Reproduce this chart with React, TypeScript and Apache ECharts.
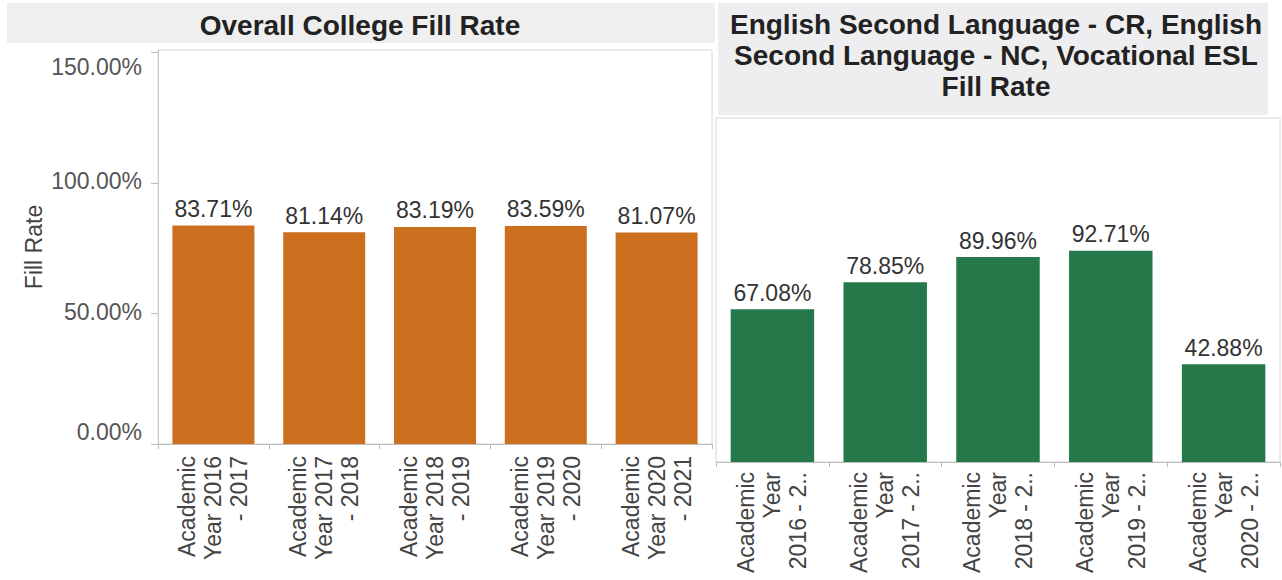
import React, { useEffect, useRef } from "react";
import * as echarts from "echarts";

const categories = [
  "Academic Year 2016 - 2017",
  "Academic Year 2017 - 2018",
  "Academic Year 2018 - 2019",
  "Academic Year 2019 - 2020",
  "Academic Year 2020 - 2021",
];
const overallFillRate = [83.71, 81.14, 83.19, 83.59, 81.07];
const eslFillRate = [67.08, 78.85, 89.96, 92.71, 42.88];
const yTicks = [0, 50, 100, 150];
const leftTitle = "Overall College Fill Rate";
const rightTitle = ["English Second Language - CR, English", "Second Language - NC, Vocational ESL", "Fill Rate"];
const yAxisName = "Fill Rate";

const FONT = '"Liberation Sans", Arial, Helvetica, sans-serif';

const wrapLeft = (v: string) => v.replace(/^Academic /, "Academic\n").replace(/ - /, "\n- ");
const wrapRight = (v: string) => {
  const rest = v.replace(/^Academic Year /, "");
  return "Academic\nYear\n" + rest.slice(0, 8) + "..";
};

export default function App() {
  const ref = useRef<HTMLDivElement>(null);
  useEffect(() => {
    if (!ref.current) return;
    const chart = echarts.init(ref.current, null, { renderer: "svg" });
    const labelStyle = { fontFamily: FONT, fontSize: 23, color: "#555" };
    chart.setOption({
      animation: false,
      backgroundColor: "#ffffff",
      textStyle: { fontFamily: FONT },
      graphic: [
        { type: "rect", shape: { x: 7, y: 3, width: 708, height: 40 }, style: { fill: "#efefef" }, silent: true },
        { type: "rect", shape: { x: 718, y: 3, width: 550, height: 112 }, style: { fill: "#eeeef0" }, silent: true },
        {
          type: "text",
          x: 360,
          y: 25,
          style: {
            text: leftTitle,
            fontFamily: FONT,
            fontSize: 28,
            fontWeight: "bold",
            fill: "#222",
            align: "center",
            verticalAlign: "middle",
          },
        },
        {
          type: "text",
          x: 996,
          y: 55,
          style: {
            text: rightTitle.join("\n"),
            fontFamily: FONT,
            fontSize: 28,
            lineHeight: 31,
            fontWeight: "bold",
            fill: "#222",
            align: "center",
            verticalAlign: "middle",
          },
        },
      ],
      grid: [
        { left: 158, top: 50, width: 554, height: 394, show: true, borderColor: "#d6d6d6", borderWidth: 1, containLabel: false },
        { left: 716, top: 118, width: 564, height: 344, show: true, borderColor: "#d6d6d6", borderWidth: 1, containLabel: false },
      ],
      xAxis: [
        {
          type: "category",
          gridIndex: 0,
          data: categories,
          axisLine: { lineStyle: { color: "#bdbdbd" } },
          axisTick: { show: true, length: 5, lineStyle: { color: "#bdbdbd" } },
          axisLabel: {
            rotate: 90,
            margin: 12,
            interval: 0,
            fontFamily: FONT,
            fontSize: 23,
            lineHeight: 26,
            color: "#444",
            formatter: wrapLeft,
          },
        },
        {
          type: "category",
          gridIndex: 1,
          data: categories,
          axisLine: { lineStyle: { color: "#bdbdbd" } },
          axisTick: { show: true, length: 5, lineStyle: { color: "#bdbdbd" } },
          axisLabel: {
            rotate: 90,
            margin: 10,
            interval: 0,
            fontFamily: FONT,
            fontSize: 23,
            lineHeight: 26,
            color: "#444",
            formatter: wrapRight,
          },
        },
      ],
      yAxis: [
        {
          type: "value",
          gridIndex: 0,
          min: yTicks[0],
          max: 151,
          interval: yTicks[1] - yTicks[0],
          name: yAxisName,
          nameLocation: "middle",
          nameGap: 113,
          nameTextStyle: { fontFamily: FONT, fontSize: 23, color: "#444" },
          axisLine: { show: true, lineStyle: { color: "#c8c8c8" } },
          axisTick: { show: true, length: 7, lineStyle: { color: "#bdbdbd" } },
          splitLine: { show: false },
          axisLabel: {
            margin: 16,
            ...labelStyle,
            formatter: (v: number) => {
              const t = v.toFixed(2) + "%";
              if (v === 150) return `{top|${t}}`;
              if (v === 0) return `{bot|${t}}`;
              return `{mid|${t}}`;
            },
            rich: {
              top: { ...labelStyle, padding: [28, 0, 0, 0] },
              bot: { ...labelStyle, padding: [0, 0, 24, 0] },
              mid: { ...labelStyle, padding: [0, 0, 4, 0] },
            },
          },
        },
        {
          type: "value",
          gridIndex: 1,
          min: 0,
          max: 151,
          interval: 50,
          show: false,
          splitLine: { show: false },
        },
      ],
      series: [
        {
          type: "bar",
          xAxisIndex: 0,
          yAxisIndex: 0,
          data: overallFillRate,
          barCategoryGap: "26%",
          itemStyle: { color: "#cc6f1f" },
          label: {
            show: true,
            position: "top",
            distance: 5,
            fontFamily: FONT,
            fontSize: 23,
            color: "#333",
            formatter: (p: any) => p.value.toFixed(2) + "%",
          },
        },
        {
          type: "bar",
          xAxisIndex: 1,
          yAxisIndex: 1,
          data: eslFillRate,
          barCategoryGap: "26%",
          itemStyle: { color: "#24784a" },
          label: {
            show: true,
            position: "top",
            distance: 5,
            fontFamily: FONT,
            fontSize: 23,
            color: "#333",
            formatter: (p: any) => p.value.toFixed(2) + "%",
          },
        },
      ],
    });
    return () => chart.dispose();
  }, []);
  return (
    <div
      ref={ref}
      style={{ position: "fixed", left: 0, top: 0, width: 1282, height: 580, background: "#fff" }}
    />
  );
}
